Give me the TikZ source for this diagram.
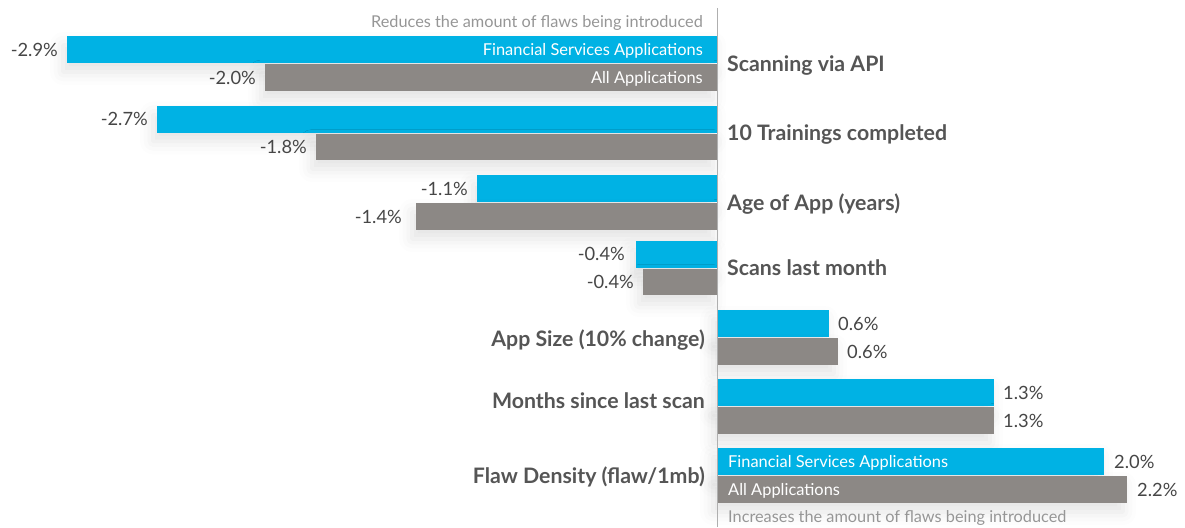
\documentclass[tikz,border=0pt]{standalone}
\usepackage{fontspec}
\setmainfont{Lato}
\usetikzlibrary{shadows.blur}
\definecolor{fsblue}{RGB}{0,178,228}
\definecolor{allgrey}{RGB}{140,136,133}
\definecolor{catgrey}{RGB}{85,85,85}
\definecolor{valgrey}{RGB}{70,70,70}
\definecolor{notegrey}{RGB}{150,150,150}
\definecolor{axisgrey}{RGB}{175,175,175}
\tikzset{
  softshadow/.style={blur shadow={shadow xshift=-4pt, shadow yshift=-9pt,
      shadow blur radius=13pt, shadow opacity=11}},
  fsbar/.style={fill=fsblue, softshadow},
  allbar/.style={fill=allgrey, softshadow},
  % text boxes hold only the cap height, so an east/west anchor sits on the cap middle
  capbox/.style={inner sep=0pt, text height=#1, text depth=0pt},
  val/.style={capbox=13.2pt, text=valgrey, font=\fontsize{18.3}{21}\selectfont},
  cat/.style={capbox=15.3pt, text=catgrey, font=\fontsize{21.3}{24}\selectfont\bfseries},
  key/.style={capbox=11.8pt, text=white, font=\fontsize{16.4}{19}\selectfont},
  note/.style={capbox=11.7pt, text=notegrey, font=\fontsize{16.3}{19}\selectfont},
}
\begin{document}
\begin{tikzpicture}[x=1pt,y=-1pt]
\useasboundingbox (0,0) rectangle (1185,527);

% bars: Financial Services (blue) above All Applications (grey)
\path[fsbar]  (67,36)    rectangle (717,63);
\path[allbar] (265,64)   rectangle (717,91);
\path[fsbar]  (157,105.5) rectangle (717,132.5);
\path[allbar] (316,133.5) rectangle (717,160);
\path[fsbar]  (477,175)  rectangle (717,202);
\path[allbar] (416,203)  rectangle (717,230);
\path[fsbar]  (636,241)  rectangle (717,267.5);
\path[allbar] (643,268.5) rectangle (717,295);
\path[fsbar]  (717,310)  rectangle (829,337);
\path[allbar] (717,338)  rectangle (838,365);
\path[fsbar]  (717,379)  rectangle (994,406);
\path[allbar] (717,407)  rectangle (994,434);
\path[fsbar]  (717,448)  rectangle (1104,475);
\path[allbar] (717,476)  rectangle (1127,503);

% zero axis
\draw[axisgrey, line width=1.3pt] (717.7,8) -- (717.7,527);

% category labels
\node[cat, anchor=west] (c1) at (727,64)  {Scanning via API};
\node[cat, anchor=west] (c2) at (727,133) {10 Trainings completed};
\node[cat, anchor=west] (c3) at (727,203) {Age of App (years)};
\node[cat, anchor=west] (c4) at (727,268) {Scans last month};
\node[cat, anchor=east] (c5) at (705,339) {App Size (10\% change)};
\node[cat, anchor=east] (c6) at (705,401) {Months since last scan};
\node[cat, anchor=east] (c7) at (705,476) {Flaw Density (flaw/1mb)};

% values
\node[val, anchor=east] (v1a) at (58,49.5)   {-2.9\%};
\node[val, anchor=east] (v1b) at (256,77.5)  {-2.0\%};
\node[val, anchor=east] (v2a) at (148,119)   {-2.7\%};
\node[val, anchor=east] (v2b) at (307,147)   {-1.8\%};
\node[val, anchor=east] (v3a) at (468,188.5) {-1.1\%};
\node[val, anchor=east] (v3b) at (402,216.5) {-1.4\%};
\node[val, anchor=east] (v4a) at (625,254)   {-0.4\%};
\node[val, anchor=east] (v4b) at (634,281.5) {-0.4\%};
\node[val, anchor=west] (v5a) at (838,323.5) {0.6\%};
\node[val, anchor=west] (v5b) at (847,351.5) {0.6\%};
\node[val, anchor=west] (v6a) at (1003,392.5) {1.3\%};
\node[val, anchor=west] (v6b) at (1003,420.5) {1.3\%};
\node[val, anchor=west] (v7a) at (1114,461.5) {2.0\%};
\node[val, anchor=west] (v7b) at (1137,489.5) {2.2\%};

% series keys written inside the bars
\node[key, anchor=east] (k1) at (703,49.5)  {Financial Services Applications};
\node[key, anchor=east] (k2) at (703,77.5)  {All Applications};
\node[key, anchor=west] (k3) at (728,461.5) {Financial Services Applications};
\node[key, anchor=west] (k4) at (728,489.5) {All Applications};

% direction notes
\node[note, anchor=east] (n1) at (703,22)  {Reduces the amount of flaws being introduced};
\node[note, anchor=west] (n2) at (728,517) {Increases the amount of flaws being introduced};
\end{tikzpicture}
\end{document}
